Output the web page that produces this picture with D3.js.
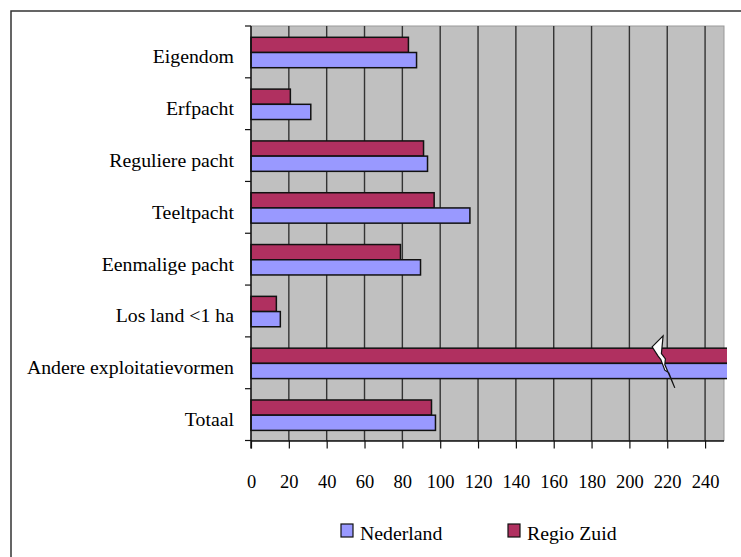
<!DOCTYPE html>
<html><head><meta charset="utf-8">
<script src="https://cdn.jsdelivr.net/npm/d3@7"></script>
<style>
html,body{margin:0;padding:0;background:#fff;}
svg{display:block;}
svg text{font-family:"Times New Roman",Times,"Liberation Serif","DejaVu Serif",serif;}
</style></head>
<body>
<svg id="chart" width="741" height="557"></svg>
<script>
const categories = ["Eigendom","Erfpacht","Reguliere pacht","Teeltpacht","Eenmalige pacht","Los land <1 ha","Andere exploitatievormen","Totaal"];
const nederland = [87.5, 31.6, 93.3, 115.7, 89.6, 15.5, 400, 97.5];
const regioZuid = [83.2, 20.8, 91.2, 96.8, 79.0, 13.4, 400, 95.4];
const seriesNames = ["Nederland","Regio Zuid"];
const xTicks = [0,20,40,60,80,100,120,140,160,180,200,220,240];

const colors = {"Nederland":"#9999ff","Regio Zuid":"#b03060"};
const svg = d3.select("#chart");
const FS = 19.8, TFS = 18.5;

svg.append("rect").attr("x",11).attr("y",11).attr("width",760).attr("height",600)
  .attr("fill","#fff").attr("stroke","#333").attr("stroke-width",1.5);

const L=251, R=724, T=26, B=440.5;
const x = d3.scaleLinear().domain([0,250]).range([L,R]);
const y0 = d3.scaleBand().domain(categories).range([T,B]).padding(0);
const bw = y0.bandwidth();
const y1 = d3.scaleBand().domain(["Regio Zuid","Nederland"]).range([bw*0.218, bw*0.805]).padding(0);

svg.append("rect").attr("x",L).attr("y",T).attr("width",R-L).attr("height",B-T)
  .attr("fill","#c0c0c0").attr("stroke","#999").attr("stroke-width",1);

svg.append("g").selectAll("line").data(xTicks.filter(d=>d>0)).join("line")
  .attr("x1",d=>x(d)).attr("x2",d=>x(d)).attr("y1",T).attr("y2",B)
  .attr("stroke","#333").attr("stroke-width",1.4);

svg.append("defs").append("clipPath").attr("id","clip")
  .append("rect").attr("x",L-2).attr("y",T).attr("width",R-L+5).attr("height",B-T);

const data = categories.map((c,i)=>({cat:c, vals:[{s:"Regio Zuid",v:regioZuid[i]},{s:"Nederland",v:nederland[i]}]}));
const gBars = svg.append("g").attr("clip-path","url(#clip)");
gBars.selectAll("g").data(data).join("g")
  .attr("transform",d=>`translate(0,${y0(d.cat)})`)
  .selectAll("rect").data(d=>d.vals).join("rect")
  .attr("x",x(0)).attr("y",d=>y1(d.s)).attr("height",y1.bandwidth())
  .attr("width",d=>x(Math.min(d.v,252))-x(0))
  .attr("fill",d=>colors[d.s]).attr("stroke","#111").attr("stroke-width",1.5);

// break symbol on "Andere exploitatievormen"
const bx = x(212), by = y0("Andere exploitatievormen") - 1;
const bolt = [[0,11],[11,0],[9.3,17.7],[13.3,23],[12.7,28.7],[22.7,52],[16.7,37],[12.7,34.3],[8.7,23.7],[6,20.3]];
svg.append("path")
  .attr("d", d3.line()(bolt.map(p=>[bx+p[0], by+p[1]])) + "Z")
  .attr("fill","#fff").attr("stroke","#111").attr("stroke-width",1.2).attr("stroke-linejoin","miter");

const xAxis = d3.axisBottom(x).tickValues(xTicks).tickSize(8).tickFormat(d3.format("d"));
const gx = svg.append("g").attr("transform",`translate(0,${B})`).call(xAxis);
gx.attr("font-family",null).attr("font-size",null);
gx.select(".domain").attr("stroke","#111").attr("stroke-width",1.5).attr("d",`M${L},0.5H${R}`);
gx.selectAll(".tick line").attr("stroke","#111").attr("stroke-width",1.2);
gx.selectAll(".tick text").attr("font-size",TFS).attr("fill","#000").attr("dy",0).attr("y",47);

svg.append("line").attr("x1",L).attr("x2",L).attr("y1",T).attr("y2",B+8).attr("stroke","#111").attr("stroke-width",1.5);
const bounds = categories.map(c=>y0(c)).concat([B]);
svg.append("g").selectAll("line").data(bounds).join("line")
  .attr("x1",L-6).attr("x2",L).attr("y1",d=>d).attr("y2",d=>d)
  .attr("stroke","#111").attr("stroke-width",1.2);

svg.append("g").selectAll("text").data(categories).join("text")
  .attr("x",234).attr("y",d=>y0(d)+bw/2+11.5)
  .attr("text-anchor","end").attr("font-size",FS).attr("fill","#000")
  .text(d=>d);

const legX = {"Nederland":341,"Regio Zuid":508};
const lg = svg.append("g").selectAll("g").data(seriesNames).join("g")
  .attr("transform",d=>`translate(${legX[d]},524)`);
lg.append("rect").attr("width",12).attr("height",13)
  .attr("fill",d=>colors[d]).attr("stroke","#111").attr("stroke-width",1.2);
lg.append("text").attr("x",19).attr("y",16).attr("font-size",FS).attr("fill","#000").text(d=>d);
</script>
</body></html>
